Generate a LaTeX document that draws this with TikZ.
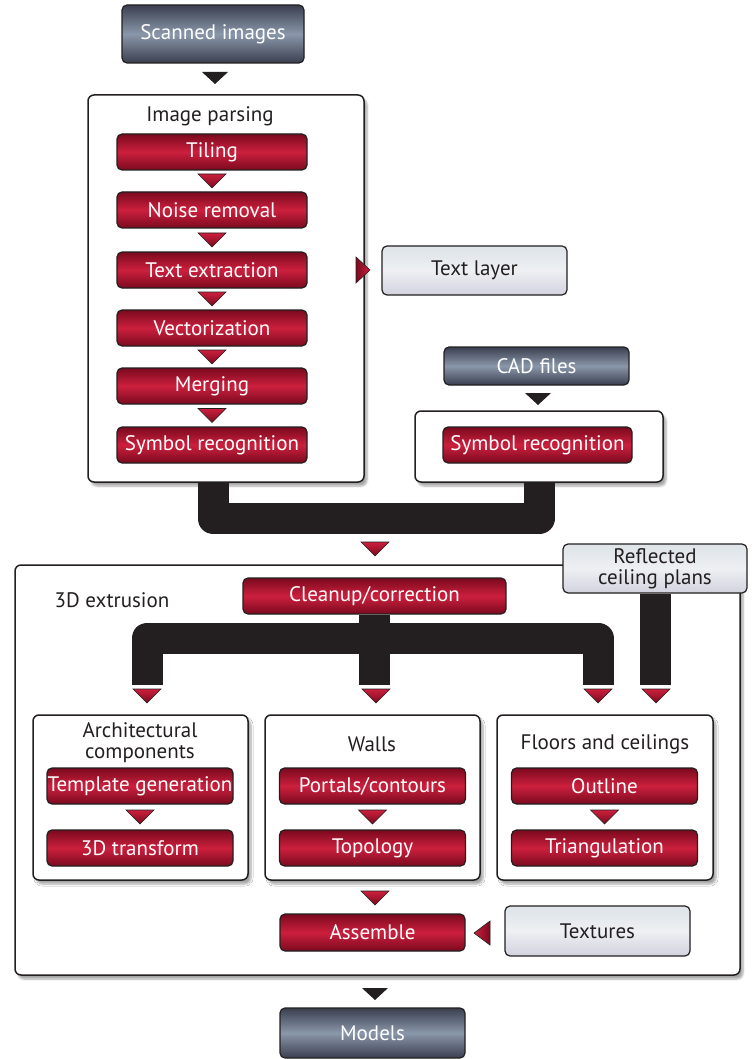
\documentclass[tikz,border=0pt]{standalone}
\usepackage{fontspec}
\setmainfont{PT Sans}
\usetikzlibrary{calc,shadows.blur}
\definecolor{ink}{HTML}{231F20}
\definecolor{redD}{HTML}{7A0A1E}
\definecolor{redM}{HTML}{CC1F3D}
\definecolor{slateD}{HTML}{3A3F4F}
\definecolor{slateM}{HTML}{8A97AA}
\definecolor{lightT}{HTML}{DDE3E8}
\definecolor{lightM}{HTML}{EEF0F3}
\definecolor{lightB}{HTML}{D2D2DE}
\newcommand{\dntri}[2]{\path[#2] (#1) ++(-14,-7) -- ++(28,0) -- ++(-14,14) -- cycle;}
\newcommand{\dnbtri}[1]{\fill[ink] (#1) ++(-13,-6) -- ++(26,0) -- ++(-13,12) -- cycle;}
\tikzset{
  base/.style={rounded corners=5pt, draw=ink, line width=1.2pt, align=center, inner sep=0pt,
    font=\fontsize{21}{21}\selectfont},
  redbox/.style={base, text=white, top color=redD, bottom color=redD, middle color=redM,
    minimum width=#1, minimum height=36pt},
  darkbox/.style={base, text=white, top color=slateD, bottom color=slateD, middle color=slateM,
    minimum width=185pt, minimum height=50pt},
  lightbox/.style={base, text=ink, top color=lightT, bottom color=lightB, middle color=lightM,
    minimum width=185pt, minimum height=49pt},
  groupbox/.style={rounded corners=6pt, draw=ink, line width=1.5pt, fill=white,
    blur shadow={shadow xshift=3pt, shadow yshift=-4pt, shadow blur steps=6, shadow opacity=35}},
  title/.style={text=ink, font=\fontsize{21}{21}\selectfont, align=center, inner sep=0pt},
  bar/.style={line width=31pt, draw=ink, line join=round},
  rtri/.style={draw=ink, line width=0.6pt, top color=redM, bottom color=redD},
}
\begin{document}
\begin{tikzpicture}[x=1pt,y=-1pt]
\useasboundingbox (0,0) rectangle (754,1059);

% ---------- top part ----------
\node[darkbox, minimum width=182pt, minimum height=58pt] (scan) at (213,34) {Scanned images};
\dnbtri{215,78}

\node[groupbox, minimum width=276pt, minimum height=387pt] (ip) at (226,288.5) {};
\node[title] (iptitle) at (210,116) {Image parsing};
\node[redbox=190pt] (tiling) at (212,152) {Tiling};
\node[redbox=190pt] (noise) at (212,210) {Noise removal};
\node[redbox=190pt] (textx) at (212,270) {Text extraction};
\node[redbox=190pt] (vect) at (212,328) {Vectorization};
\node[redbox=190pt] (merge) at (212,386) {Merging};
\node[redbox=190pt] (sym1) at (212,445) {Symbol recognition};
\dntri{$(tiling.south)!0.5!(noise.north)$}{rtri}
\dntri{$(noise.south)!0.5!(textx.north)$}{rtri}
\dntri{$(textx.south)!0.5!(vect.north)$}{rtri}
\dntri{$(vect.south)!0.5!(merge.north)$}{rtri}
\dntri{$(merge.south)!0.5!(sym1.north)$}{rtri}

\node[lightbox] (textlayer) at (474.5,270.5) {Text layer};
\path[draw=ink, line width=0.6pt, left color=redD, right color=redM] (356,257) -- (370,270) -- (356,283) -- cycle;

\node[darkbox, minimum height=38pt] (cad) at (536.5,366) {CAD files};
\dnbtri{538,399}
\node[groupbox, minimum width=248pt, minimum height=71pt] (rb) at (539,446.5) {};
\node[redbox=189pt] (sym2) at (537.5,445) {Symbol recognition};

\draw[bar] ([xshift=-13pt]ip.south) -- ++(0,36) -| (rb.south);
\dntri{375,549}{rtri}

% ---------- 3D extrusion ----------
\node[groupbox, minimum width=725pt, minimum height=410pt] (ext) at (377.5,770) {};
\node[title] (exttitle) at (112,600) {3D extrusion};
\node[lightbox, minimum width=184pt] (rcp) at (655,568.5) {\fontsize{21}{18}\selectfont Reflected\\ceiling plans};
\node[redbox=263pt] (clean) at (374.5,596) {Cleanup/correction};

\coordinate (e1) at (147,685);
\coordinate (e3) at (598,685);
\draw[bar] (e1) -- (147,638) -- (598,638) -- (e3);
\draw[bar] (clean.south) -- (clean.south |- e1);
\draw[bar] (rcp.south) -- (rcp.south |- e1);
\dntri{147,696}{rtri}
\dntri{376,696}{rtri}
\dntri{598,696}{rtri}
\dntri{656,696}{rtri}

\node[groupbox, minimum width=215pt, minimum height=165pt] (arch) at (140.5,797.5) {};
\node[groupbox, minimum width=215pt, minimum height=165pt] (walls) at (372.5,797.5) {};
\node[groupbox, minimum width=216pt, minimum height=165pt] (floors) at (605,797.5) {};
\node[title] (archt) at (140,743) {\fontsize{21}{19}\selectfont Architectural\\components};
\node[title] (wallst) at (372,744) {Walls};
\node[title] (floorst) at (605,744) {Floors and ceilings};

\node[redbox=186pt] (tmpl) at (140,786) {Template generation};
\node[redbox=186pt] (trans) at (140,848) {3D transform};
\node[redbox=186pt] (portals) at (372.5,786) {Portals/contours};
\node[redbox=186pt] (topo) at (372.5,848) {Topology};
\node[redbox=186pt] (outline) at (604.5,786) {Outline};
\node[redbox=186pt] (tri) at (604.5,848) {Triangulation};
\dntri{$(tmpl.south)!0.5!(trans.north)$}{rtri}
\dntri{$(portals.south)!0.5!(topo.north)$}{rtri}
\dntri{$(outline.south)!0.5!(tri.north)$}{rtri}
\dntri{375,898}{rtri}

\node[redbox=185pt, minimum height=37pt] (asm) at (372.5,932.5) {Assemble};
\node[lightbox, minimum height=50pt] (tex) at (597.5,931) {Textures};
\path[draw=ink, line width=0.6pt, left color=redM, right color=redD] (490,921) -- (474,933) -- (490,945) -- cycle;

\dnbtri{375,994}
\node[darkbox] (models) at (372.5,1033) {Models};
\end{tikzpicture}
\end{document}
